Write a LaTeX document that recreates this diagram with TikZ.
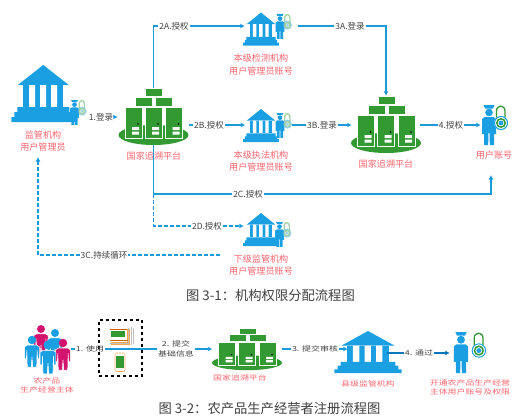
\documentclass[tikz,border=0pt]{standalone}
\usepackage{fontspec}
\usepackage{graphicx}
\setmainfont{Noto Sans CJK SC}
\usetikzlibrary{arrows.meta}
\definecolor{ibl}{HTML}{1B9FE3}
\definecolor{ln}{HTML}{1A9AD9}
\definecolor{lnd}{HTML}{0A76BB}
\definecolor{igr}{HTML}{339933}
\definecolor{ird}{HTML}{F8646E}
\definecolor{img}{HTML}{D4136F}
\definecolor{txg}{HTML}{404040}
\newcommand{\sqz}[1]{\scalebox{1.05}[0.8]{#1}}
\newcommand{\sqb}[1]{\scalebox{1.12}[0.85]{#1}}
\newcommand{\folk}[4]{%
  \fill[#4] (#1,#2) circle[radius=5*#3];
  \begin{scope}[shift={(#1,#2)},xscale=1.1*#3,yscale=#3]
    \fill[#4,draw=white,line width=.5pt] (-5,6) -- (5,6) -- (8,8) -- (8,22) -- (6,22) -- (5.5,12) -- (5,32) -- (.8,32) -- (0,20) -- (-.8,32) -- (-5,32) -- (-5.5,12) -- (-6,22) -- (-8,22) -- (-8,8) -- cycle;
  \end{scope}}
\tikzset{
  x=1pt,y=-1pt,
  conn/.style={draw=ln,line width=1.5pt},
  arr/.style={conn,-{Latex[length=4.5pt,width=5pt]}},
  dconn/.style={conn,line width=1.3pt,dash pattern=on 4pt off 2pt},
  darr/.style={dconn,-{Latex[length=4.5pt,width=5pt]}},
  lab/.style={inner sep=1pt,text=txg,font=\fontsize{8.5}{10}\selectfont},
  blab/.style={inner sep=1pt,text=txg,font=\fontsize{8}{9.5}\selectfont,align=center},
  redt/.style={inner sep=0pt,text=ird,align=center,font=\fontsize{9.1}{12.5}\selectfont},
  redb/.style={inner sep=0pt,text=ird,align=center,font=\fontsize{8.5}{9}\selectfont},
  slot/.style={inner sep=0pt,minimum width=#1},
  captxt/.style={inner sep=0pt,text=txg,font=\fontsize{13.3}{15}\selectfont},
  bank/.pic={
    \fill[ibl] (-25.5,20) -- (0,0) -- (25.5,20) -- cycle;
    \fill[ibl] (-20,20) rectangle (20,42);
    \fill[white] (-14.3,20) rectangle (-8.3,42) (-3.3,20) rectangle (2.7,42) (7.7,20) rectangle (13.7,42);
    \fill[ibl] (-26,42) rectangle (26,47) (-29,47) rectangle (29,52) (-32,52) rectangle (32,57);
  },
  guard/.pic={
    \fill[ibl] (-5.5,0) -- (5.5,0) -- (4,3.5) -- (-4,3.5) -- cycle;
    \fill[ibl] (0,7.5) circle[radius=3.8];
    \fill[ibl] (-4.5,12) -- (4.5,12) -- (7,14) -- (7,29) -- (5,29) -- (5,40) -- (.8,40) -- (.6,28) -- (-.6,28) -- (-.8,40) -- (-5,40) -- (-5,29) -- (-7,29) -- (-7,14) -- cycle;
  },
  padlock/.pic={
    \draw[igr,line width=1.3pt] (7.5,14) -- (7.5,6) .. controls (7.5,-.5) and (16,-.5) .. (16,6) -- (16,14);
    \fill[white] (12,18) circle[radius=7];
    \draw[ibl,line width=1pt] (12,18) circle[radius=6.5];
    \draw[igr,line width=1.5pt] (12,18) circle[radius=4.2];
    \fill[ibl] (12,18) circle[radius=2.4];
  },
  rack/.pic={
    \fill[igr] (0,47) ellipse[x radius=35,y radius=10];
    \foreach \l in {-28.5,-8.5,12} {
      \fill[igr,draw=white,line width=.7pt] (\l,19) rectangle ++(17,31);
      \fill[white] (\l+7,39) rectangle ++(7,3) (\l+7,43.5) rectangle ++(7,3);
      \fill[black] (\l+13,36) circle[radius=.9];
    }
    \fill[igr,draw=white,line width=.6pt] (-18,9) rectangle (-1,18) (2,9) rectangle (19,18) (-8,0) rectangle (9,8);
  }
}
\begin{document}
\begin{tikzpicture}
\useasboundingbox (0,0) rectangle (522,420);
% icons
\pic at (43.3,65) {bank};
\pic[scale=.62] at (74.5,100) {guard};
\pic[scale=.62,opacity=.45] at (74.5,100) {padlock};
\pic at (153.5,88) {rack};
\pic[xscale=.56,yscale=.58] at (261,12.5) {bank};
\pic[scale=.62] at (280,14) {guard};
\pic[scale=.62,opacity=.45] at (280,14) {padlock};
\pic[xscale=.56,yscale=.58] at (261,109) {bank};
\pic[scale=.62] at (280,113) {guard};
\pic[scale=.62,opacity=.45] at (280,113) {padlock};
\pic[xscale=.56,yscale=.58] at (261,213) {bank};
\pic[scale=.62] at (279.5,222) {guard};
\pic[scale=.62,opacity=.45] at (279.5,222) {padlock};
\pic at (386,96) {rack};
\pic at (489,105) {guard};
\pic at (489,105) {padlock};
% lower row icons
\folk{41}{329}{.8}{img}
\folk{55}{333}{.8}{ibl}
\folk{32}{340}{.85}{ibl}
\folk{63}{343}{.85}{img}
\folk{48}{345}{.9}{ibl}
\fill[orange!70!white] (111,329) rectangle (130,345);
\fill[white] (110,328) rectangle (127,342);
\draw[gray!50,line width=.5pt] (128,328) -- (128,344) (131,327) -- (131,345) (133,328) -- (133,344);
\draw[orange!80!black,line width=.6pt] (110,329) -- (127,329);
\fill[igr] (111,331) rectangle (125,337);
\draw[orange!80!black,line width=.8pt] (110,340) -- (128,340);
\draw[gray!50,line width=.5pt] (110,343) -- (128,343);
\draw[orange!60!white,line width=.7pt,rounded corners=1.5pt] (115,353) rectangle (125,371.5);
\fill[igr] (115.8,356) rectangle (124.2,368);
\pic[xscale=1,yscale=.74] at (247,328) {rack};
\pic[xscale=1.05,yscale=.737] at (368,331) {bank};
\pic[scale=1.03] at (461,332) {guard};
\pic[scale=1.03] at (466.5,332) {padlock};
% named slots for connectors
\node[slot=74,minimum height=30] (admin) at (48,117) {};
\node[slot=71,minimum height=57] (srv1) at (153.5,116.5) {};
\node[slot=53,minimum height=30] (bank1) at (271.5,26) {};
\node[slot=46,minimum height=30] (bank2) at (268.5,125) {};
\node[slot=44,minimum height=30] (bank3) at (266,226) {};
\node[slot=68,minimum height=58] (srv2) at (386,125) {};
\node[slot=27,minimum height=40] (usr) at (494.5,125) {};
\node[slot=71,minimum height=20] (folks) at (35.5,349) {};
\node[draw=black,line width=1.1pt,dashed,inner sep=0pt,minimum width=43,minimum height=56] (dev) at (120.5,348) {};
\node[slot=69,minimum height=20] (srv3) at (247,349) {};
\node[slot=39,minimum height=20] (cbank) at (367.5,349) {};
\node[slot=22,minimum height=20] (cusr) at (461,353) {};
% texts of the nodes
\node[redt] (t1) at (43,141) {监管机构\\用户管理员};
\node[redt] (t2) at (154,156) {国家追溯平台};
\node[redt] (t3) at (261,64.5) {本级检测机构\\用户管理员账号};
\node[redt] (t4) at (261,161) {本级执法机构\\用户管理员账号};
\node[redt] (t5) at (261,265) {下级监管机构\\用户管理员账号};
\node[redt] (t6) at (386,164) {国家追溯平台};
\node[redt] (t7) at (494,155) {用户账号};
\node[redb] (t8) at (47,385) {\sqz{农产品}\\\sqz{生产经营主体}};
\node[redb] (t9) at (240,378) {\sqz{国家追溯平台}};
\node[redb] (t10) at (368,384) {\sqz{县级监管机构}};
\node[redb] (t11) at (470,387.5) {\sqz{开通农产品生产经营}\\\sqz{主体用户账号及权限}};
\coordinate (tip2c) at (491,175);
\coordinate (tip3c) at (38,157);
\coordinate (end3c) at (220,255);
% labels
\node[lab] (l1) at (101,117) {1.登录};
\node[lab] (l2a) at (174,26) {2A.授权};
\node[lab] (l2b) at (209,125) {2B.授权};
\node[lab] (l2c) at (248,194) {2C.授权};
\node[lab] (l2d) at (207,226) {2D.授权};
\node[lab] (l3a) at (350,26) {3A.登录};
\node[lab] (l3b) at (322,125) {3B.登录};
\node[lab] (l3c) at (104,255) {3C.持续循环};
\node[lab] (l4) at (451,125) {4.授权};
\node[blab] (m1) at (90,349) {\sqb{1. 使用}};
\node[blab] (m2) at (176,349) {\sqb{2. 提交}\\\sqb{基础信息}};
\node[blab] (m3) at (315,349) {\sqb{3. 提交审核}};
\node[blab] (m4) at (419,353) {\sqb{4. 通过}};
% connectors
\draw[arr] (l1.east) -- (l1.east -| srv1.west);
\draw[conn] (srv1.north) |- (l2a.west);
\draw[arr] (l2a.east) -- (l2a.east -| bank1.west);
\draw[conn] (srv1.east |- bank2) -- (l2b.west);
\draw[arr] (l2b.east) -- (bank2.west);
\draw[conn] (srv1.south) |- (l2c.west);
\draw[arr] (l2c.east) -| (tip2c);
\draw[dconn] (srv1.south |- l2c) |- (l2d.west);
\draw[darr] (l2d.east) -- (bank3.west);
\draw[conn] (bank1.east) -- (l3a.west);
\draw[arr] (l3a.east) -| (srv2.north);
\draw[conn] (bank2.east) -- (l3b.west);
\draw[arr] (l3b.east) -- (srv2.west);
\draw[dconn] (end3c) -- (l3c.east);
\draw[darr] (l3c.west) -| (tip3c);
\draw[conn] (srv2.east) -- (l4.west);
\draw[arr] (l4.east) -- (usr.west);
\draw[conn] (folks.east) -- (m1.west);
\draw[conn] (m1.east) -- (m2.west);
\draw[arr] (m2.east) -- (srv3.west);
\draw[conn] (srv3.east) -- (m3.west);
\draw[arr] (m3.east) -- (cbank.west);
\draw[conn,draw=lnd] (cbank.east |- m4) -- (m4.west);
\draw[arr,draw=lnd] (m4.east) -- (cusr.west);
% captions
\node[captxt] (c1) at (270.5,295) {图 3-1：机构权限分配流程图};
\node[captxt] (c2) at (269.5,408) {图 3-2：农产品生产经营者注册流程图};
\end{tikzpicture}
\end{document}
